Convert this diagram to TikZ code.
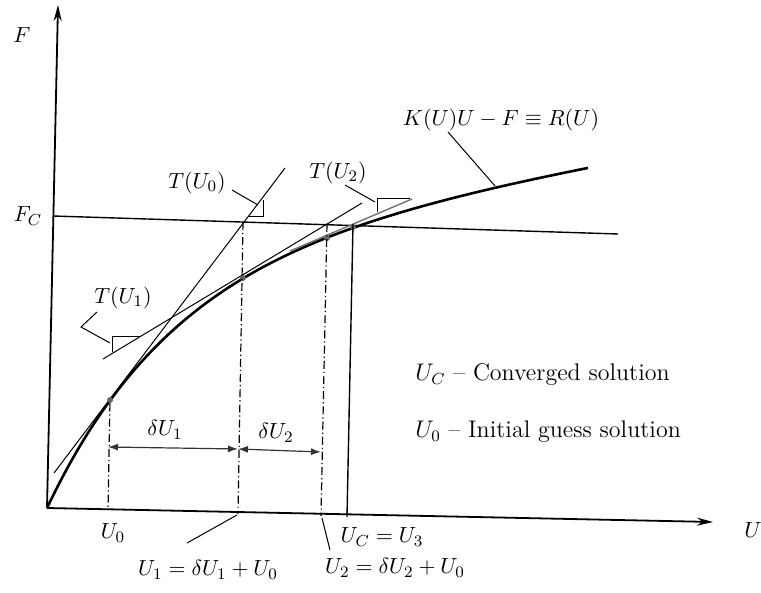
\documentclass[tikz,border=0pt]{standalone}
\usetikzlibrary{arrows.meta}
\begin{document}
\begin{tikzpicture}[x=0.5pt,y=-0.5pt,
  lbl/.style={inner sep=0pt,font=\fontsize{10.95}{13}\selectfont},
  leg/.style={inner sep=0pt,font=\fontsize{12}{14}\selectfont},
  axis/.style={line width=0.9pt},
  thin/.style={line width=0.5pt},
  curve/.style={line width=1.3pt},
  dd/.style={line width=0.6pt,dash pattern=on 4pt off 1.5pt on 0.6pt off 1.5pt},
  dim/.style={line width=0.6pt,{Latex[length=5pt,width=3.5pt]}-{Latex[length=5pt,width=3.5pt]},black!80},
  dot/.style={circle,fill=black!60,inner sep=0pt,minimum size=3pt}]
\useasboundingbox (0,0) rectangle (761,593);
% axes
\coordinate (O) at (47,508);
\coordinate (Ytop) at (58,5);
\coordinate (Xend) at (713,522);
\draw[axis,-{Stealth[length=8pt,width=4pt]}] (O) -- (Ytop);
\draw[axis,-{Stealth[length=8pt,width=4pt,open]}] (O) -- (Xend);
\node[lbl] (F) at (22,35) {$F$};
\node[lbl] (FC) at (28,216) {$F_C$};
\node[lbl] (U) at (753,530) {$U$};
% F_C line
\coordinate (fc1) at (53,216);
\coordinate (fc2) at (618,234);
\draw[thin,line width=0.7pt] (fc1) -- (fc2);
% curve
\draw[curve] plot[domain=0:541,samples=120,smooth] ({47+\x},{508-252*(1-exp(-\x/130))-0.17*\x});
% tangent lines
\coordinate (t0a) at (54,473); \coordinate (t0b) at (285,168);
\coordinate (t1a) at (103,359); \coordinate (t1b) at (362,203);
\coordinate (t2a) at (290,251); \coordinate (t2b) at (412,199);
\draw[thin] (t0a) -- (t0b);
\draw[thin] (t1a) -- (t1b);
\draw[thin,black!55,line width=0.7pt] (t2a) -- (t2b);
% right-angle triangles
\draw[thin] (248,217) -- (263,217) -- (263,200);
\draw[thin] (112,352) -- (112,337) -- (140,337);
\draw[thin] (377,212) -- (377,199) -- (410,199);
% dots
\node[dot] (d0) at (110,400) {};
\node[dot] (d1) at (243,278) {};
\node[dot] (d2) at (327,238) {};
\node[dot] (dc) at (353,227) {};
% verticals
\coordinate (u0b) at (108,510);
\coordinate (u1t) at (243,222); \coordinate (u1b) at (238,514);
\coordinate (u2t) at (327,224); \coordinate (u2b) at (321,516);
\coordinate (uct) at (353,224); \coordinate (ucb) at (347,517);
\draw[dd] (d0) -- (u0b);
\draw[dd] (u1t) -- (u1b);
\draw[dd] (u2t) -- (u2b);
\draw[thin,line width=0.7pt] (uct) -- (ucb);
% dimension arrows
\coordinate (a0) at (108,447); \coordinate (a1) at (238,449); \coordinate (a2) at (321,452);
\draw[dim] (a0) -- (a1);
\draw[dim] (a1) -- (a2);
\node[lbl] (dU1) at (165,430) {$\delta U_1$};
\node[lbl] (dU2) at (276,433) {$\delta U_2$};
% tangent labels and leaders
\node[lbl] (T0) at (197,183) {$T(U_0)$};
\node[lbl] (T1) at (123,298) {$T(U_1)$};
\node[lbl] (T2) at (338,173) {$T(U_2)$};
\coordinate (l0a) at (232,190); \coordinate (l0b) at (258,205);
\coordinate (l1a) at (97,312); \coordinate (l1m) at (81,327); \coordinate (l1b) at (110,343);
\coordinate (l2a) at (345,185); \coordinate (l2b) at (375,202);
\draw[thin] (l0a) -- (l0b);
\draw[thin] (l1a) -- (l1m) -- (l1b);
\draw[thin] (l2a) -- (l2b);
% K(U) label
\node[lbl] (KU) at (501,120) {$K(U)U - F \equiv R(U)$};
\coordinate (lka) at (448,132); \coordinate (lkb) at (495,186);
\draw[thin] (lka) -- (lkb);
% axis labels
\node[lbl] (U0) at (113,533) {$U_0$};
\node[lbl] (U1eq) at (208,570) {$U_1 = \delta U_1 + U_0$};
\node[lbl] (U2eq) at (395,568) {$U_2 = \delta U_2 + U_0$};
\node[lbl] (UCeq) at (382,537) {$U_C = U_3$};
\coordinate (lu1a) at (187,543); \coordinate (lu1b) at (237,515);
\coordinate (lu2a) at (330,550); \coordinate (lu2b) at (322,518);
\draw[thin] (lu1a) -- (lu1b);
\draw[thin] (lu2a) -- (lu2b);
% legend
\node[leg,anchor=west] (leg1) at (415,375) {$U_C$ -- Converged solution};
\node[leg,anchor=west] (leg2) at (415,432) {$U_0$ -- Initial guess solution};
\end{tikzpicture}
\end{document}
